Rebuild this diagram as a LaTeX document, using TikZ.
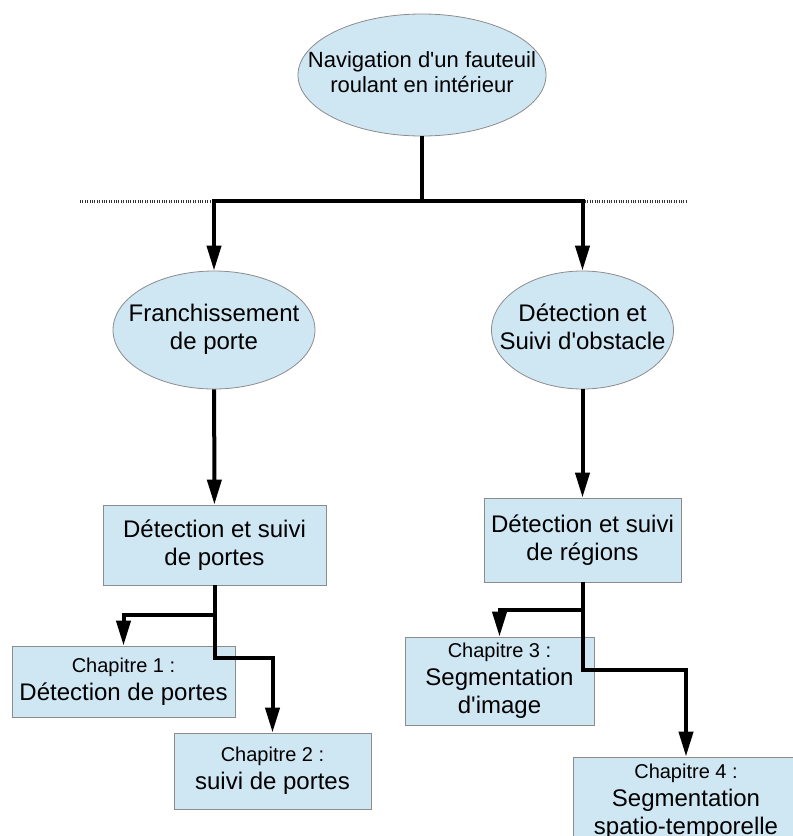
\documentclass[tikz,border=0pt]{standalone}
\usepackage{fontspec}
\setmainfont{Liberation Sans}[Ligatures=TeXOff]
\usepackage{tikz}
\usetikzlibrary{shapes.geometric,arrows.meta}

\definecolor{paleblue}{HTML}{CFE6F3}
\definecolor{rimgray}{HTML}{8C8C8C}

\newcommand{\chaptext}[2]{{\fontsize{10}{12}\selectfont #1}\\#2}
\newcommand{\ellbox}[1]{\makebox[0pt]{\begin{tabular}{@{}c@{}}#1\end{tabular}}}

\begin{document}
\begin{tikzpicture}[x=0.5pt,y=-0.5pt,
    ell/.style={ellipse,draw=rimgray,fill=paleblue,inner sep=0pt,
        font=\fontsize{12}{14}\selectfont},
    box/.style={rectangle,draw=rimgray,fill=paleblue,inner sep=0pt,align=center,
        font=\fontsize{12}{14}\selectfont},
    conn/.style={line width=2pt,black},
    arr/.style={conn,-{Triangle[length=12.5pt,width=7pt]}},
    dots/.style={line width=1.5pt,dash pattern=on 0.5pt off 0.7pt,black!80}]
    \useasboundingbox (0,0) rectangle (793,836);
    \clip (0,0) rectangle (793,836);

    \node [ell,minimum width=124pt,minimum height=61pt,font=\fontsize{11}{12.5}\selectfont]
        (nav) at (422,75) {\ellbox{Navigation d'un fauteuil\\roulant en intérieur}};
    \node [ell,minimum width=101pt,minimum height=59pt] (fran) at (214,330) {\ellbox{Franchissement\\de porte}};
    \node [ell,minimum width=91pt,minimum height=59pt] (obst) at (582.5,330) {\ellbox{Détection et\\Suivi d'obstacle}};

    \node [box,minimum width=111.5pt,minimum height=40pt] (portes) at (214.5,545) {Détection et suivi\\de portes};
    \node [box,minimum width=98.5pt,minimum height=42pt] (regions) at (582.5,540) {Détection et suivi\\de régions};

    \node [box,minimum width=111.5pt,minimum height=35.5pt] (ch1) at (123.5,681.5) {\chaptext{Chapitre 1 :}{Détection de portes}};
    \node [box,minimum width=98.5pt,minimum height=38pt] (ch2) at (272.5,771) {\chaptext{Chapitre 2 :}{suivi de portes}};
    \node [box,minimum width=94.5pt,minimum height=44pt] (ch3) at (499.5,681) {\chaptext{Chapitre 3 :}{Segmentation\\d'image}};
    \node [box,minimum width=113pt,minimum height=45pt] (ch4) at (686,802) {\chaptext{Chapitre 4 :}{Segmentation\\spatio-temporelle}};

    \coordinate (split) at (422,201);
    \coordinate (dl) at (80,201);
    \coordinate (dr) at (686,201);
    \coordinate (j1) at (214.5,615);
    \coordinate (j2) at (214.5,658);
    \coordinate (j3) at (582.5,610);
    \coordinate (j4) at (582.5,670);

    \draw [dots] (dl) -- (split -| fran);
    \draw [dots] (split -| obst) -- (dr);
    \draw [conn] (nav) -- (split);
    \draw [arr] (split) -| (fran);
    \draw [arr] (split) -| (obst);

    \draw [arr] (fran) -- (portes);
    \draw [arr] (obst) -- (regions);

    \draw [arr] (portes.south) -- (j1) -| (ch1.north);
    \draw [arr] (j1) -- (j2) -| (ch2.north);
    \draw [arr] (regions.south) -- (j3) -| (ch3.north);
    \draw [arr] (j3) -- (j4) -| (ch4.north);
\end{tikzpicture}
\end{document}
